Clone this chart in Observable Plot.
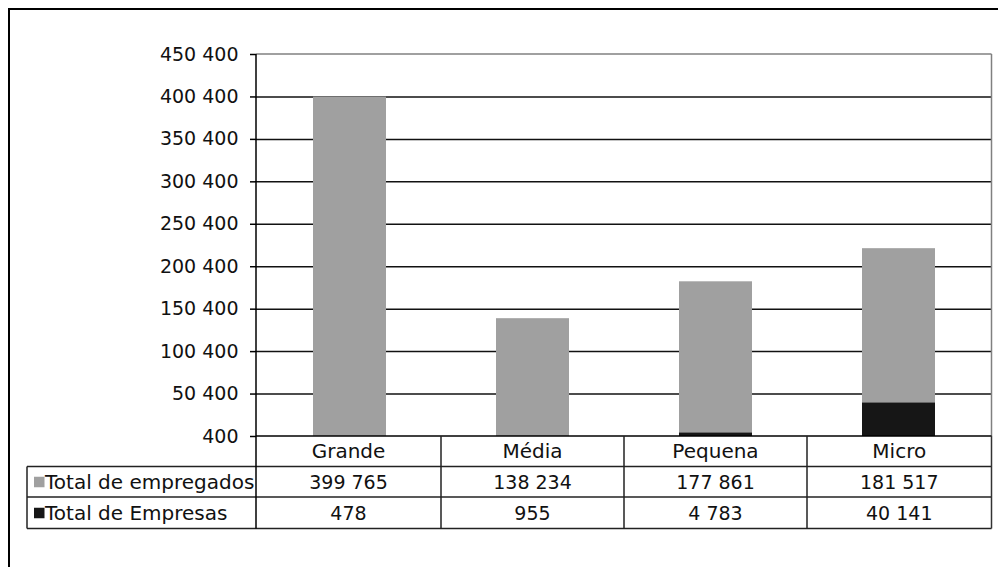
<!DOCTYPE html>
<html><head><meta charset="utf-8">
<script src="https://cdn.jsdelivr.net/npm/d3@7"></script>
<script src="https://cdn.jsdelivr.net/npm/@observablehq/plot@0.6"></script>
<style>
html,body{margin:0;padding:0;background:#fff;}
#chart svg{display:block;}
</style></head><body><div id="chart"></div>
<script>
const categories = ["Grande", "Média", "Pequena", "Micro"];
const seriesNames = ["Total de empregados", "Total de Empresas"];
const empregados = [399765, 138234, 177861, 181517];
const empresas = [478, 955, 4783, 40141];
const yTicks = [400, 50400, 100400, 150400, 200400, 250400, 300400, 350400, 400400, 450400];
const seriesColors = ["#a0a0a0", "#161616"];

const fmt = d3.formatLocale({decimal: ",", thousands: " ", grouping: [3], currency: ["", ""]}).format(",d");

// stacked order: empresas at bottom, empregados on top
const rows = categories.flatMap((c, i) => [
  {cat: c, series: seriesNames[1], value: empresas[i]},
  {cat: c, series: seriesNames[0], value: empregados[i]}
]);

const W = 998, H = 567;
const mL = 256, mR = 6.5, mT = 54, mB = 131;
const FONT = "DejaVu Sans";
const FS = 19;      // numbers
const FS_TXT = 20;  // word labels

function tableMark(index, scales, values, dim) {
  const x = scales.x;
  const step = x(categories[1]) - x(categories[0]);
  const bw = typeof x.bandwidth === "function" ? x.bandwidth() : step * 0.4;
  const left = dim.marginLeft, right = dim.width - dim.marginRight;
  const top = dim.marginTop, axisY = dim.height - dim.marginBottom;
  const r1 = axisY + 30.5, r2 = axisY + 61, r3 = axisY + 92.5;
  const tableLeft = 27;
  const bounds = [left];
  for (let i = 0; i < categories.length - 1; i++) bounds.push(x(categories[i]) + bw + (step - bw) / 2);
  bounds.push(right);

  const g = d3.create("svg:g").attr("font-family", FONT).attr("font-size", FS).attr("text-anchor", "start");
  const line = (x1, y1, x2, y2, stroke = "#111", sw = 1.5) =>
    g.append("line").attr("x1", x1).attr("y1", y1).attr("x2", x2).attr("y2", y2)
      .attr("stroke", stroke).attr("stroke-width", sw);

  // outer chart-area border (extends past the page)
  line(8, 9, W, 9, "#000", 2);
  line(9, 8, 9, H, "#000", 2);

  // plot frame right / top (grey)
  line(left, top, right, top, "#808080", 1.5);
  line(right, top, right, axisY, "#808080", 1.5);

  // table horizontal lines
  line(left, axisY, right, axisY, "#000", 1.5);
  line(tableLeft, r1, right, r1, "#222", 1.5);
  line(tableLeft, r2, right, r2, "#222", 1.5);
  line(tableLeft, r3, right, r3, "#222", 1.5);
  // table vertical lines
  line(tableLeft, r1, tableLeft, r3, "#222", 1.5);
  line(left, top, left, r3, "#000", 1.5);
  for (let i = 1; i < bounds.length - 1; i++) line(bounds[i], axisY, bounds[i], r3, "#222", 1.5);
  line(right, axisY, right, r3, "#333", 1.5);

  // cells
  const rowMid = [(axisY + r1) / 2, (r1 + r2) / 2, (r2 + r3) / 2];
  const cell = (tx, ty, s, anchor, fs) =>
    g.append("text").attr("x", tx).attr("y", ty).attr("dy", "0.36em").attr("font-size", fs)
      .attr("text-anchor", anchor).attr("fill", "#111").text(s);
  categories.forEach((c, i) => {
    const cx = (bounds[i] + bounds[i + 1]) / 2;
    cell(cx, rowMid[0], c, "middle", FS_TXT);
    cell(cx, rowMid[1], fmt(empregados[i]), "middle", FS);
    cell(cx, rowMid[2], fmt(empresas[i]), "middle", FS);
  });
  // legend keys
  seriesNames.forEach((s, j) => {
    const ym = rowMid[j + 1];
    g.append("rect").attr("x", 34).attr("y", ym - 5).attr("width", 10.5).attr("height", 10.5).attr("fill", scales.color(s));
    cell(45, ym, s, "start", FS_TXT);
  });
  return g.node();
}

const chart = Plot.plot({
  width: W, height: H,
  marginLeft: mL, marginRight: mR, marginTop: mT, marginBottom: mB,
  style: {fontFamily: FONT, fontSize: FS + "px", background: "#fff", color: "#111"},
  x: {domain: categories, paddingInner: 0.6, paddingOuter: 0.3, axis: null},
  y: {domain: [yTicks[0], yTicks[yTicks.length - 1]], axis: null},
  color: {domain: seriesNames, range: seriesColors},
  marks: [
    Plot.ruleY(yTicks.slice(1, -1), {stroke: "#111", strokeWidth: 1.5}),
    Plot.barY(rows, Plot.stackY({x: "cat", y: "value", fill: "series", clip: true})),
    Plot.axisY({ticks: yTicks, tickFormat: fmt, tickSize: 6, tickPadding: 12, label: null, stroke: "#000", strokeWidth: 1.5, fontSize: FS, fill: "#111"}),
    tableMark
  ]
});
document.getElementById("chart").appendChild(chart);
</script>
</body></html>
